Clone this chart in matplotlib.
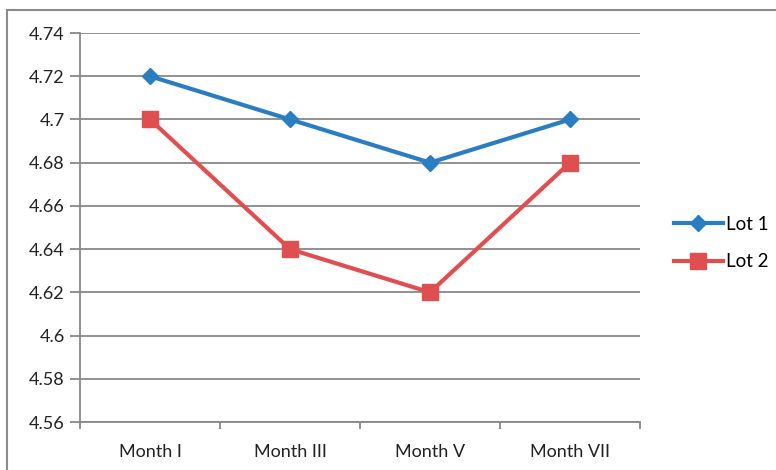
import matplotlib.pyplot as plt
from matplotlib.patches import Rectangle

months = ["Month I", "Month III", "Month V", "Month VII"]
lot1 = [4.72, 4.70, 4.68, 4.70]
lot2 = [4.70, 4.64, 4.62, 4.68]
yticks = [4.56, 4.58, 4.60, 4.62, 4.64, 4.66, 4.68, 4.70, 4.72, 4.74]
ytick_labels = ["4.56", "4.58", "4.6", "4.62", "4.64", "4.66", "4.68", "4.7", "4.72", "4.74"]

plt.rcParams['font.family'] = ['Lato', 'DejaVu Sans']
W, H = 776, 470
fig = plt.figure(figsize=(W / 100, H / 100), dpi=100)
ax = fig.add_axes([80 / W, 1 - 422 / H, 560 / W, 389 / H])

grid_c = "#888888"
x = range(len(months))
ax.plot(x, lot1, color="#2A7DC1", lw=3, marker="D", ms=8, label="Lot 1", zorder=3)
ax.plot(x, lot2, color="#E04F4F", lw=3, marker="s", ms=11, label="Lot 2", zorder=3)

ax.set_xlim(-0.5, len(months) - 0.5)
ax.set_ylim(4.56, 4.74)
ax.set_yticks(yticks)
ax.set_yticklabels(ytick_labels)
ax.yaxis.grid(True, color=grid_c, lw=1.3)
ax.set_axisbelow(True)

# category labels between boundary ticks
ax.set_xticks([i - 0.5 for i in range(len(months) + 1)])
ax.set_xticklabels([])
ax.set_xticks(list(x), minor=True)
ax.set_xticklabels(months, minor=True)
ax.tick_params(axis="x", which="minor", length=0, pad=16, labelsize=13, colors="#222222")
ax.tick_params(axis="x", which="major", length=5, width=1.3, color=grid_c, direction="out")
ax.tick_params(axis="y", length=7, width=1.3, color=grid_c, labelsize=13, labelcolor="#222222", pad=4)

for s in ["top", "right"]:
    ax.spines[s].set_visible(False)
for s in ["left", "bottom"]:
    ax.spines[s].set_color(grid_c)
    ax.spines[s].set_linewidth(1.3)

ax.legend(loc="center left", bbox_to_anchor=(657 / W, 1 - 243 / H), bbox_transform=fig.transFigure,
          frameon=False, fontsize=13.5, handlelength=2.6, handletextpad=0.2, labelspacing=1.1)

# chart border
fig.patches.append(Rectangle((7 / W, -0.1), 1.2, 1 - 10 / H + 0.1, transform=fig.transFigure,
                             fill=False, edgecolor="#8a8a8a", lw=1.5))

fig.savefig("out.png", dpi=100)
